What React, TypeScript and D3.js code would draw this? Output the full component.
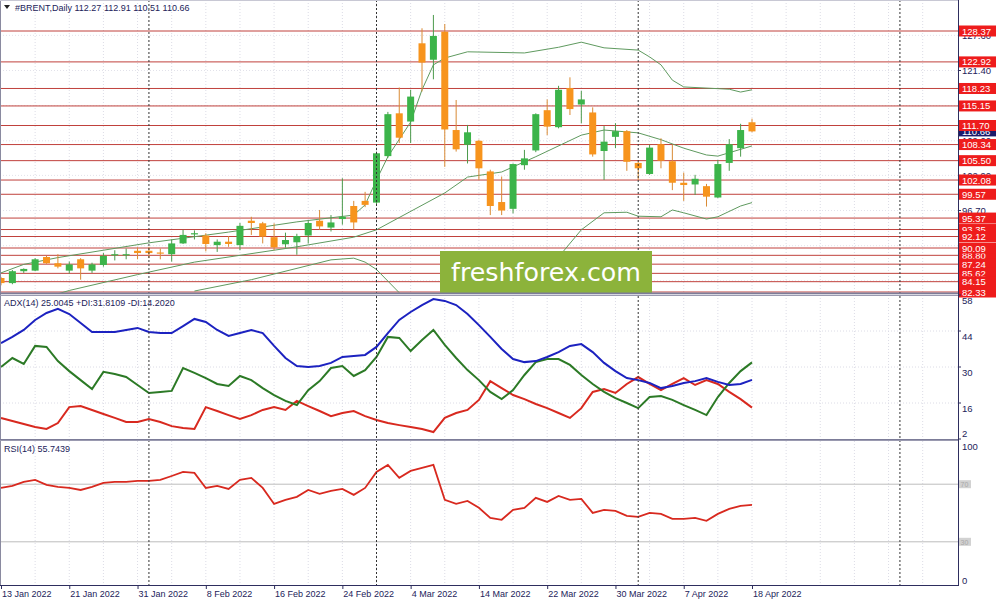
import React from "react";
import * as d3 from "d3";

// ---------- DATA ----------
const dateLabels = ["13 Jan 2022", "21 Jan 2022", "31 Jan 2022", "8 Feb 2022", "16 Feb 2022", "24 Feb 2022", "4 Mar 2022", "14 Mar 2022", "22 Mar 2022", "30 Mar 2022", "7 Apr 2022", "18 Apr 2022"];
const dateLabelIndex = [0, 6, 12, 18, 24, 30, 36, 42, 48, 54, 60, 66];
const monthSeparatorIndex = [13, 33, 56, 79];

const opens = [84.8, 83.9, 86.0, 86.1, 88.5, 87.4, 86.1, 88.1, 86.1, 87.1, 88.9, 88.9, 89.6, 89.6, 89.3, 89.0, 90.9, 92.5, 92.3, 90.6, 91.2, 90.6, 94.9, 94.45, 92.0, 90.75, 91.1, 92.3, 94.9, 93.7, 95.2, 97.5, 98.4, 98.1, 106.3, 113.85, 112.4, 126.2, 123.3, 128.25, 110.9, 108.3, 109.0, 103.6, 98.2, 97.0, 104.7, 107.3, 114.4, 111.4, 118.3, 115.4, 114.0, 107.2, 109.7, 110.7, 105.1, 103.15, 108.4, 105.4, 101.6, 101.3, 101.0, 99.0, 105.1, 107.7, 112.27];
const highs = [85.0, 86.2, 86.5, 88.3, 88.7, 89.0, 87.7, 88.3, 87.5, 89.2, 89.7, 90.0, 90.2, 90.3, 90.0, 91.6, 93.3, 93.2, 92.7, 91.6, 92.2, 94.5, 95.6, 94.7, 94.45, 92.8, 92.6, 94.9, 96.8, 95.9, 102.4, 98.4, 100.0, 107.1, 114.1, 118.4, 118.0, 128.85, 131.2, 129.6, 116.2, 111.8, 109.2, 103.9, 102.7, 105.0, 107.4, 113.85, 116.3, 118.7, 120.2, 117.8, 114.9, 111.6, 112.1, 110.9, 105.3, 108.3, 109.45, 108.3, 103.4, 103.0, 101.4, 105.6, 109.3, 112.0, 112.91];
const lows = [83.5, 83.7, 85.7, 86.0, 87.3, 86.5, 85.6, 84.5, 85.7, 86.8, 87.9, 88.1, 88.1, 88.3, 88.1, 87.7, 90.8, 91.6, 89.5, 89.4, 90.3, 89.7, 92.4, 90.9, 89.7, 90.15, 88.9, 90.9, 93.3, 93.0, 94.2, 93.3, 97.3, 97.5, 106.0, 108.6, 108.6, 117.7, 119.85, 104.4, 107.1, 105.0, 102.1, 95.9, 95.9, 96.2, 103.9, 107.0, 110.0, 111.2, 113.55, 112.1, 106.2, 102.1, 107.7, 103.7, 102.1, 103.0, 104.15, 100.3, 98.4, 99.45, 97.4, 98.9, 103.7, 106.2, 110.51];
const closes = [83.9, 86.0, 86.4, 88.1, 87.4, 86.8, 87.2, 86.5, 87.2, 88.7, 89.0, 89.0, 89.2, 89.2, 89.1, 90.9, 92.4, 92.7, 90.8, 91.2, 90.8, 94.0, 94.5, 92.1, 90.2, 91.5, 92.2, 94.5, 93.9, 94.6, 95.6, 94.6, 97.7, 106.8, 113.7, 109.55, 116.8, 122.8, 127.5, 111.0, 107.5, 110.5, 104.15, 97.5, 96.7, 104.9, 105.9, 113.7, 111.5, 118.0, 114.6, 116.3, 106.6, 108.85, 110.7, 105.3, 104.15, 107.8, 105.5, 101.6, 101.2, 102.3, 99.15, 104.9, 108.4, 110.9, 110.66];

// Bollinger bands read at bar indexes: [barIndex, price]
const bbUpper: [number, number][] = [[0, 85.7], [2, 87.2], [5, 88.4], [13, 91.0], [20, 92.9], [26, 94.7], [31, 95.9], [32, 97.7], [33, 102.1], [34, 106.2], [36, 112.3], [37, 118.0], [38, 122.4], [39, 123.6], [41, 124.7], [46, 124.5], [49, 125.5], [51, 126.4], [53, 125.4], [56, 125.0], [57, 123.8], [58, 122.4], [59, 119.7], [60, 118.5], [64, 118.1], [65, 117.6], [66, 118.0]];
const bbMiddle: [number, number][] = [[5, 82.0], [6, 82.6], [12, 85.4], [17, 87.6], [26, 90.3], [31, 92.0], [33, 93.3], [39, 99.8], [41, 102.6], [44, 103.5], [47, 106.2], [51, 110.0], [53, 110.9], [56, 110.4], [58, 109.2], [60, 107.7], [62, 106.5], [63, 106.3], [66, 108.1]];
const bbLower: [number, number | null][] = [[17, 82.5], [22, 84.5], [29, 88.0], [31, 88.3], [32, 87.6], [33, 86.3], [35, 82.2], [40, null], [46, 82.3], [49, 88.5], [51, 93.3], [53, 96.3], [55, 96.4], [56, 95.7], [58, 95.6], [59, 96.8], [60, 96.3], [62, 95.2], [63, 95.6], [65, 97.5], [66, 98.1]];

const levelLines = [128.37, 122.92, 118.23, 115.15, 111.70, 108.34, 105.50, 102.08, 99.57, 95.37, 93.35, 92.12, 88.80, 90.09, 87.24, 85.62, 84.15, 82.33];
const priceTicks = [127.60, 121.40, 115.20, 109.00, 102.90, 96.70, 90.50, 84.30];
const lastPrice = 110.66;

const adx = [39.3, 41.7, 44.4, 48.3, 51.0, 52.6, 50.6, 47.1, 43.6, 43.6, 43.6, 44.4, 45.2, 43.6, 43.2, 43.2, 45.9, 48.7, 47.5, 44.4, 42.1, 43.2, 44.4, 43.2, 38.2, 33.5, 30.4, 30.0, 30.4, 31.6, 33.9, 34.3, 34.7, 37.8, 43.2, 48.3, 51.4, 54.1, 56.4, 55.7, 54.1, 50.6, 46.3, 41.7, 37.0, 33.1, 31.9, 32.3, 33.9, 35.8, 38.2, 38.9, 35.8, 31.6, 28.4, 25.7, 24.9, 23.8, 21.8, 22.6, 23.8, 24.5, 25.7, 24.2, 23.0, 23.4, 25.0];
const plusDI = [30.0, 33.5, 31.2, 38.2, 37.8, 32.3, 28.4, 24.9, 21.4, 28.1, 27.3, 26.1, 23.0, 19.9, 20.3, 20.7, 29.6, 27.7, 25.7, 23.4, 22.6, 26.5, 24.9, 21.8, 19.1, 16.8, 15.2, 21.0, 24.5, 29.6, 30.4, 26.5, 28.8, 33.9, 41.7, 41.3, 36.2, 40.5, 44.4, 38.6, 33.5, 28.8, 24.9, 20.3, 17.5, 21.0, 26.9, 31.9, 33.1, 33.1, 30.8, 26.9, 23.4, 20.3, 17.9, 16.0, 14.0, 18.3, 18.7, 17.2, 15.2, 13.3, 11.3, 18.3, 23.8, 28.4, 31.8];
const minusDI = [10.2, 9.0, 7.8, 6.7, 5.9, 8.2, 14.4, 14.8, 13.3, 11.7, 10.2, 8.6, 8.6, 9.8, 8.6, 7.0, 6.3, 5.9, 14.4, 12.9, 11.3, 9.8, 11.3, 13.3, 14.4, 13.3, 16.8, 14.8, 12.9, 10.9, 12.1, 12.9, 10.9, 9.4, 8.2, 7.4, 6.7, 5.9, 4.7, 10.2, 12.1, 13.3, 17.2, 24.5, 21.8, 19.1, 17.5, 15.6, 14.0, 12.1, 10.2, 14.0, 20.3, 21.4, 19.9, 23.4, 26.1, 23.4, 21.0, 23.4, 25.7, 23.0, 24.9, 23.4, 20.3, 17.5, 14.2];
const rsi = [67.4, 68.8, 71.6, 73.0, 69.5, 68.1, 67.4, 66.0, 68.1, 70.9, 71.6, 71.6, 72.3, 72.3, 73.0, 75.7, 78.5, 77.8, 67.4, 68.8, 66.7, 73.0, 74.4, 67.4, 56.3, 59.1, 61.2, 66.0, 63.3, 65.3, 66.7, 62.6, 67.4, 78.5, 83.4, 74.4, 79.2, 81.3, 83.4, 59.1, 56.3, 58.4, 53.6, 46.6, 45.3, 52.2, 53.6, 60.5, 57.7, 61.9, 59.1, 59.8, 50.1, 52.2, 51.5, 48.0, 47.3, 50.1, 49.4, 45.9, 45.9, 46.6, 44.6, 49.4, 52.9, 55.0, 55.7];

const adxTicks = [58, 44, 30, 16, 2];
const rsiLevels = [70, 30];

// ---------- CHART ----------
const FONT = "'Liberation Sans', Arial, sans-serif";
const AXIS_X = 958;
const TEXT_COL = "#23235a";

export default function App() {
  const xs = d3.scaleLinear().domain([0, 66]).range([1, 752]);
  const yP = d3.scaleLinear().domain([82.33, 128.37]).range([292, 31]);
  const yA = d3.scaleLinear().domain([2, 58]).range([439, 295]);
  const yR = d3.scaleLinear().domain([0, 100]).range([585, 441]);

  const main = { top: 0, bottom: 293 };
  const adxP = { top: 295, bottom: 439 };
  const rsiP = { top: 441, bottom: 585 };

  const perBar = (sc: d3.ScaleLinear<number, number>) =>
    d3.line<number>().x((_, i) => xs(i)).y((v) => sc(v));
  const bbLine = d3
    .line<[number, number | null]>()
    .defined((d) => d[1] !== null)
    .x((d) => xs(d[0]))
    .y((d) => yP(d[1] as number));

  const gridIdx: number[] = [];
  for (let k = 3; xs(k) < AXIS_X - 2; k += 3) gridIdx.push(k);

  const bull = "#3cb44a";
  const bear = "#f7941d";

  return (
    <svg
      width={1000}
      height={600}
      style={{ position: "absolute", left: 0, top: 0, background: "#fff" }}
      fontFamily={FONT}
    >
      <defs>
        <clipPath id="clipMain"><rect x={0} y={main.top} width={AXIS_X} height={main.bottom - main.top} /></clipPath>
        <clipPath id="clipAdx"><rect x={0} y={adxP.top} width={AXIS_X} height={adxP.bottom - adxP.top} /></clipPath>
        <clipPath id="clipRsi"><rect x={0} y={rsiP.top} width={AXIS_X} height={rsiP.bottom - rsiP.top} /></clipPath>
      </defs>
      <rect x={0} y={0} width={1000} height={600} fill="#fff" />

      {/* vertical grid */}
      {gridIdx.map((k) =>
        [main, adxP, rsiP].map((p, j) => (
          <line key={`g${k}-${j}`} x1={xs(k)} x2={xs(k)} y1={p.top} y2={p.bottom} stroke="#dcdce6" strokeDasharray="1,2" />
        ))
      )}
      {/* horizontal grid main */}
      {priceTicks.map((t) => (
        <line key={`hp${t}`} x1={0} x2={AXIS_X} y1={yP(t)} y2={yP(t)} stroke="#e2e2ea" strokeDasharray="1,2" />
      ))}
      {[44, 30, 16].map((t) => (
        <line key={`ha${t}`} x1={0} x2={AXIS_X} y1={yA(t)} y2={yA(t)} stroke="#dcdce6" strokeDasharray="1,2" />
      ))}

      {/* level lines */}
      <g clipPath="url(#clipMain)">
        {levelLines.map((l) => (
          <line key={`l${l}`} x1={0} x2={AXIS_X} y1={yP(l)} y2={yP(l)} stroke="#c0413c" strokeWidth={1} />
        ))}
        {/* Bollinger */}
        <path d={bbLine(bbUpper) || ""} fill="none" stroke="#5f9a5f" strokeWidth={1} />
        <path d={bbLine(bbMiddle) || ""} fill="none" stroke="#5f9a5f" strokeWidth={1} />
        <path d={bbLine(bbLower) || ""} fill="none" stroke="#5f9a5f" strokeWidth={1} />
        {/* candles */}
        {opens.map((o, i) => {
          const c = closes[i];
          const up = c >= o;
          const x = xs(i);
          const top = yP(Math.max(o, c));
          const bot = yP(Math.min(o, c));
          return (
            <g key={`c${i}`}>
              <line x1={x} x2={x} y1={yP(highs[i])} y2={yP(lows[i])} stroke={up ? "#4c9a4c" : "#d98a34"} strokeWidth={1} />
              <rect x={x - 3.5} y={top} width={7} height={Math.max(1.2, bot - top)} fill={up ? bull : bear} />
            </g>
          );
        })}
      </g>

      {/* ADX */}
      <g clipPath="url(#clipAdx)">
        <path d={perBar(yA)(minusDI) || ""} fill="none" stroke="#d8291f" strokeWidth={2} />
        <path d={perBar(yA)(plusDI) || ""} fill="none" stroke="#2c7a26" strokeWidth={2} />
        <path d={perBar(yA)(adx) || ""} fill="none" stroke="#1c22c0" strokeWidth={2} />
      </g>

      {/* RSI */}
      {rsiLevels.map((l) => (
        <line key={`rl${l}`} x1={0} x2={AXIS_X} y1={yR(l)} y2={yR(l)} stroke="#bdbdbd" strokeWidth={1} />
      ))}
      <g clipPath="url(#clipRsi)">
        <path d={perBar(yR)(rsi) || ""} fill="none" stroke="#d8291f" strokeWidth={1.8} />
      </g>

      {/* month separators */}
      {monthSeparatorIndex.map((k) => (
        <line key={`s${k}`} x1={xs(k)} x2={xs(k)} y1={0} y2={rsiP.bottom} stroke="#333" strokeDasharray="2,2" />
      ))}

      {/* watermark */}
      <rect x={440} y={251} width={212} height={42} fill="#8cb33b" />
      <text x={546} y={281} textAnchor="middle" fill="#fff" fontSize={25} fontFamily="'DejaVu Sans', Verdana, sans-serif" textLength={190} lengthAdjust="spacingAndGlyphs">freshforex.com</text>

      {/* panel frames */}
      <line x1={0.5} x2={0.5} y1={0} y2={rsiP.bottom} stroke="#8a8aa0" />
      <line x1={0} x2={AXIS_X} y1={0.5} y2={0.5} stroke="#c8c8d4" />
      <rect x={0} y={main.bottom - 0.5} width={AXIS_X} height={1.8} fill="#7c7c98" />
      <line x1={0} x2={AXIS_X} y1={adxP.top + 0.5} y2={adxP.top + 0.5} stroke="#9a9ab0" />
      <line x1={0} x2={AXIS_X} y1={adxP.bottom + 0.5} y2={adxP.bottom + 0.5} stroke="#7c7c98" />
      <line x1={0} x2={AXIS_X} y1={rsiP.top - 0.5} y2={rsiP.top - 0.5} stroke="#9a9ab0" />
      <line x1={0} x2={AXIS_X} y1={rsiP.bottom + 0.5} y2={rsiP.bottom + 0.5} stroke="#2e2e5e" />
      <line x1={AXIS_X + 0.5} x2={AXIS_X + 0.5} y1={0} y2={rsiP.bottom + 1} stroke="#2e2e5e" />

      {/* right price axis */}
      {priceTicks.map((t) => (
        <g key={`pt${t}`}>
          <line x1={AXIS_X} x2={AXIS_X + 3} y1={yP(t)} y2={yP(t)} stroke="#2e2e5e" />
          <text x={AXIS_X + 4} y={yP(t) + 3.5} fontSize={9.5} fill={TEXT_COL}>{t.toFixed(2)}</text>
        </g>
      ))}
      <rect x={AXIS_X + 1} y={yP(lastPrice) - 5} width={37} height={10} fill="#1b1b6b" />
      <text x={AXIS_X + 4} y={yP(lastPrice) + 3.5} fontSize={9.5} fill="#fff">{lastPrice.toFixed(2)}</text>
      {levelLines.map((l) => (
        <g key={`lb${l}`}>
          <rect x={AXIS_X + 1} y={yP(l) - 5.5} width={37} height={11} fill="#ee1c1c" />
          <text x={AXIS_X + 4} y={yP(l) + 3.5} fontSize={9.5} fill="#fff">{l.toFixed(2)}</text>
        </g>
      ))}

      {/* ADX axis */}
      {adxTicks.map((t, i) => (
        <g key={`at${t}`}>
          <line x1={AXIS_X} x2={AXIS_X + 3} y1={yA(t)} y2={yA(t)} stroke="#2e2e5e" />
          <text x={AXIS_X + 4} y={i === adxTicks.length - 1 ? yA(t) - 2 : yA(t) + 9} fontSize={9.5} fill={TEXT_COL}>{t}</text>
        </g>
      ))}

      {/* RSI axis */}
      <text x={AXIS_X + 4} y={yR(100) + 9} fontSize={9.5} fill={TEXT_COL}>100</text>
      <text x={AXIS_X + 4} y={yR(0) - 1} fontSize={9.5} fill={TEXT_COL}>0</text>
      {rsiLevels.map((l) => (
        <g key={`rlb${l}`}>
          <rect x={AXIS_X + 1} y={yR(l) - 4} width={12} height={8} fill="#d2d2d2" />
          <text x={AXIS_X + 2.5} y={yR(l) + 3} fontSize={7} fill="#a8a8a8">{l}</text>
        </g>
      ))}

      {/* x axis */}
      {dateLabelIndex.map((k, i) => (
        <g key={`xd${k}`}>
          <line x1={xs(k) + 0.5} x2={xs(k) + 0.5} y1={rsiP.bottom} y2={rsiP.bottom + 4} stroke="#2e2e5e" />
          <text x={xs(k) + 1} y={597} fontSize={9} fill={TEXT_COL}>{dateLabels[i]}</text>
        </g>
      ))}

      {/* headers */}
      <path d="M4,5 L10,5 L7,9 Z" fill="#222" />
      <text x={15} y={10.5} fontSize={9} fill={TEXT_COL}>#BRENT,Daily  112.27 112.91 110.51 110.66</text>
      <text x={4} y={305.5} fontSize={9} fill={TEXT_COL}>ADX(14) 25.0045 +DI:31.8109 -DI:14.2020</text>
      <text x={4} y={452} fontSize={9} fill={TEXT_COL}>RSI(14) 55.7439</text>
    </svg>
  );
}
